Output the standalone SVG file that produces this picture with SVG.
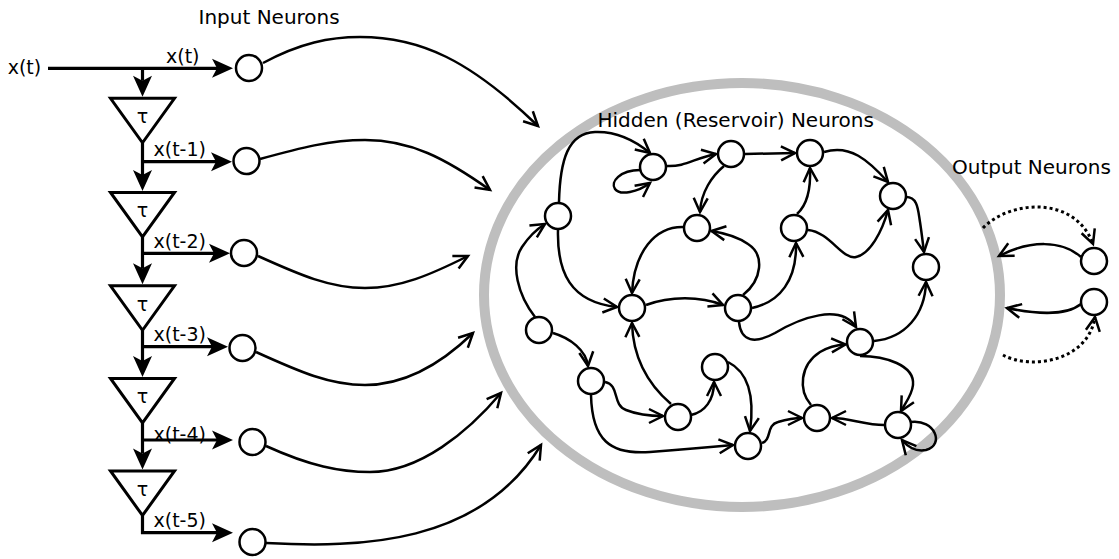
<svg xmlns="http://www.w3.org/2000/svg" width="1119" height="559" viewBox="0 0 1119 559">
<style>
  text { font-family: "DejaVu Sans", "Liberation Sans", sans-serif; font-size: 19px; fill: #000; }
  .title { font-size: 20px; }
  .tau { text-anchor: middle; }
  .neuron { fill: #fff; stroke: #000; stroke-width: 2.5; }
  .delay { fill: #fff; stroke: #000; stroke-width: 3; }
  .feed { fill: none; stroke: #000; stroke-width: 3.2; }
  .feed.arrow { marker-end: url(#solid); }
  .edge { fill: none; stroke: #000; stroke-width: 2.5; marker-end: url(#open); }
  .dotted { stroke-dasharray: 3 3; stroke-width: 3; }
  .reservoir { fill: none; stroke: #bebebe; stroke-width: 10; }
</style>
<defs>
  <marker id="open" markerUnits="userSpaceOnUse" orient="auto" overflow="visible" markerWidth="30" markerHeight="30" refX="0" refY="0">
    <path d="M-14,-7 L0,0 L-14,7" fill="none" stroke="#000" stroke-width="2.5"/>
  </marker>
  <marker id="solid" markerUnits="userSpaceOnUse" orient="auto" overflow="visible" markerWidth="30" markerHeight="30" refX="0" refY="0">
    <path d="M16,0 L-5,-9.5 L0,0 L-5,9.5 Z" fill="#000"/>
  </marker>
</defs>

<rect width="1119" height="559" fill="#fff"/>

<!-- reservoir boundary -->
<ellipse class="reservoir" cx="742" cy="295" rx="258" ry="212"/>

<!-- titles -->
<text class="title" x="198.5" y="24">Input Neurons</text>
<text class="title" x="597.5" y="126.7">Hidden (Reservoir) Neurons</text>
<text class="title" x="952" y="174">Output Neurons</text>

<!-- tapped delay line labels -->
<g id="delay-labels">
  <text x="7.7" y="73.5">x(t)</text>
  <text x="166" y="62.7">x(t)</text>
  <text x="153.5" y="156">x(t-1)</text>
  <text x="153.5" y="248">x(t-2)</text>
  <text x="153.5" y="341">x(t-3)</text>
  <text x="153.5" y="440.5">x(t-4)</text>
  <text x="153.5" y="526.7">x(t-5)</text>
</g>

<!-- tapped delay line wiring -->
<g id="delay-line">
  <path class="feed arrow" d="M48,68.3 H217"/>
  <path class="feed arrow" d="M142.5,68.3 V80.8"/>
  <path class="feed arrow" d="M142.5,142.8 V175"/>
  <path class="feed arrow" d="M142.5,161.7 H216"/>
  <path class="feed arrow" d="M142.5,237 V268.3"/>
  <path class="feed arrow" d="M142.5,253.3 H214"/>
  <path class="feed arrow" d="M142.5,330.3 V361"/>
  <path class="feed arrow" d="M142.5,346.7 H212"/>
  <path class="feed arrow" d="M142.5,423 V453.5"/>
  <path class="feed arrow" d="M142.5,440 H217"/>
  <path class="feed arrow" d="M142.5,515.5 V532.7 H217"/>
</g>

<!-- delay elements -->
<g id="delay1"><polygon class="delay" points="110.5,98.3 174.5,98.3 142.5,142.8"/><text class="tau" x="142.5" y="123">τ</text></g>
<g id="delay2"><polygon class="delay" points="110.5,192.5 174.5,192.5 142.5,237"/><text class="tau" x="142.5" y="217.3">τ</text></g>
<g id="delay3"><polygon class="delay" points="110.5,285.8 174.5,285.8 142.5,330.3"/><text class="tau" x="142.5" y="310.6">τ</text></g>
<g id="delay4"><polygon class="delay" points="110.5,378.5 174.5,378.5 142.5,423"/><text class="tau" x="142.5" y="403.3">τ</text></g>
<g id="delay5"><polygon class="delay" points="110.5,471 174.5,471 142.5,515.5"/><text class="tau" x="142.5" y="495.8">τ</text></g>

<!-- connections -->
<g id="connectors">
  <!-- input neurons into the reservoir -->
  <path class="edge" d="M263,63 C300,43 330,37 360,37 C420,37 470,60 538,126"/>
  <path class="edge" d="M260,159 C300,148 330,140 365,140 C410,140 445,158 490,190"/>
  <path class="edge" d="M258,256 C300,275 330,288 365,288 C400,288 430,275 468,256"/>
  <path class="edge" d="M256,352 C300,372 330,385 365,385 C405,385 440,365 473,333"/>
  <path class="edge" d="M266,446 C310,466 340,472 370,472 C420,472 468,432 501,393"/>
  <path class="edge" d="M266,543 C360,548 480,545 541,445"/>

  <!-- recurrent reservoir links -->
  <path class="edge" d="M640,170 C620,170 610,182 615,189 C620,196 638,192 650,183"/>
  <path class="edge" d="M559,202 C560,160 568,133 595,132 C620,131 638,143 650,153"/>
  <path class="edge" d="M667,166 C685,167 695,158 716,154"/>
  <path class="edge" d="M745,154 L795,153"/>
  <path class="edge" d="M724,166 C712,176 701,192 700,212"/>
  <path class="edge" d="M824,152 C850,144 868,160 888,182"/>
  <path class="edge" d="M797,214 C807,205 811,190 810,168"/>
  <path class="edge" d="M808,230 C830,232 842,260 856,257 C870,254 882,232 888,210"/>
  <path class="edge" d="M906,197 C918,197 918,210 920,222 C922,235 923,245 924,252"/>
  <path class="edge" d="M684,227 C655,226 634,252 632,293"/>
  <path class="edge" d="M743,295 C762,280 765,255 748,244 C738,237 724,233 711.5,231"/>
  <path class="edge" d="M558,230 C557,272 570,302 617,307"/>
  <path class="edge" d="M535,317 C518,295 510,265 522,247 C530,235 537,229 545,224"/>
  <path class="edge" d="M646,305 C670,296 700,296 723,305"/>
  <path class="edge" d="M752,308 C780,302 797,280 796,243"/>
  <path class="edge" d="M739,322 C741,342 755,344 775,333 C800,318 840,303 856,327"/>
  <path class="edge" d="M874,341 C905,338 925,315 926,282"/>
  <path class="edge" d="M553,333 C570,338 586,350 588,366"/>
  <path class="edge" d="M605,382 C620,385 612,405 626,410 C636,414 650,416 663,416"/>
  <path class="edge" d="M591,395 C592,440 610,455 650,452 C690,449 712,447 733,445"/>
  <path class="edge" d="M671,404 C650,386 633,360 632,323"/>
  <path class="edge" d="M691,415 C705,412 714,400 714,382"/>
  <path class="edge" d="M728,362 C748,372 755,395 750,431"/>
  <path class="edge" d="M762,443 C772,440 766,425 778,422 C788,419 795,418 802,418"/>
  <path class="edge" d="M811,405 C798,390 800,365 820,352 C830,346 837,345 845.5,344.5"/>
  <path class="edge" d="M860,356 C885,356 915,365 913,385 C912,395 906,402 901,411"/>
  <path class="edge" d="M884,425 C865,425 850,418 832,418"/>
  <path class="edge" d="M911,422 C935,419 945,445 926,450 C916,452 908,447 902,440"/>

  <!-- readout and feedback -->
  <path class="edge" d="M1081,257 C1062,240 1030,240 999,256"/>
  <path class="edge" d="M1081,304 C1066,316 1035,314 1007,308"/>
  <path class="edge dotted" d="M983,228 C1010,200 1075,195 1093,244"/>
  <path class="edge dotted" d="M1003,355 C1030,370 1088,362 1095,317"/>
</g>

<!-- input neurons -->
<g id="in0"><circle class="neuron" cx="249" cy="68" r="13"/></g>
<g id="in1"><circle class="neuron" cx="246.5" cy="161" r="13"/></g>
<g id="in2"><circle class="neuron" cx="244" cy="253" r="13"/></g>
<g id="in3"><circle class="neuron" cx="242.5" cy="348" r="13"/></g>
<g id="in4"><circle class="neuron" cx="252.5" cy="442" r="13"/></g>
<g id="in5"><circle class="neuron" cx="252.5" cy="542" r="13"/></g>

<!-- reservoir neurons -->
<g id="hA"><circle class="neuron" cx="653" cy="167" r="13"/></g>
<g id="hB"><circle class="neuron" cx="731" cy="154" r="13"/></g>
<g id="hG"><circle class="neuron" cx="810" cy="153" r="13"/></g>
<g id="hI"><circle class="neuron" cx="893" cy="196" r="13"/></g>
<g id="hJ"><circle class="neuron" cx="926" cy="267" r="13"/></g>
<g id="hC"><circle class="neuron" cx="558" cy="216" r="13"/></g>
<g id="hD"><circle class="neuron" cx="697" cy="228" r="13"/></g>
<g id="hH"><circle class="neuron" cx="794" cy="228" r="13"/></g>
<g id="hE"><circle class="neuron" cx="632" cy="308" r="13"/></g>
<g id="hF"><circle class="neuron" cx="738" cy="308" r="13"/></g>
<g id="hK"><circle class="neuron" cx="860" cy="342" r="13"/></g>
<g id="hL"><circle class="neuron" cx="539" cy="330" r="13"/></g>
<g id="hM"><circle class="neuron" cx="591" cy="381" r="13"/></g>
<g id="hN"><circle class="neuron" cx="715" cy="367" r="13"/></g>
<g id="hO"><circle class="neuron" cx="678" cy="417" r="13"/></g>
<g id="hP"><circle class="neuron" cx="748" cy="446" r="13"/></g>
<g id="hQ"><circle class="neuron" cx="817" cy="418" r="13"/></g>
<g id="hR"><circle class="neuron" cx="898" cy="425" r="13"/></g>

<!-- output neurons -->
<g id="out0"><circle class="neuron" cx="1094" cy="261" r="13"/></g>
<g id="out1"><circle class="neuron" cx="1094" cy="302" r="13"/></g>
</svg>
